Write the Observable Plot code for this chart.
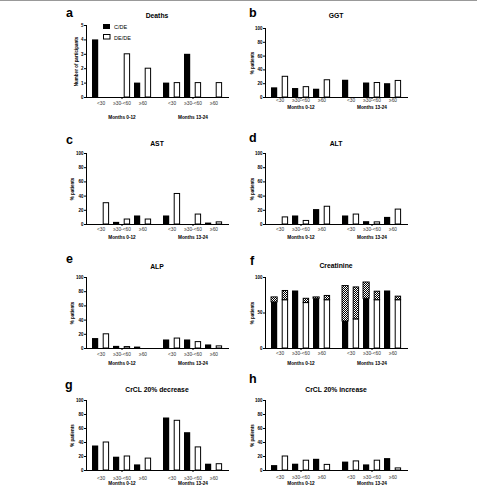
<!DOCTYPE html>
<html><head><meta charset="utf-8">
<script src="https://cdn.jsdelivr.net/npm/d3@7"></script>
<script src="https://cdn.jsdelivr.net/npm/@observablehq/plot@0.6"></script>
<style>
body{margin:0;background:#fff;font-family:"Liberation Sans",Arial,sans-serif;}
#root{position:relative;width:477px;height:489px;overflow:hidden;background:#fff}
#topline{position:absolute;left:0;top:0;width:477px;height:1px;background:#999}
#overlay{position:absolute;left:0;top:0;pointer-events:none}
</style></head><body>
<svg width="0" height="0" style="position:absolute">
  <defs>
    <pattern id="chk" width="2" height="2" patternUnits="userSpaceOnUse">
      <rect width="2" height="2" fill="#fff"/>
      <rect width="1" height="1" fill="#000"/>
      <rect x="1" y="1" width="1" height="1" fill="#000"/>
    </pattern>
  </defs>
</svg>
<div id="root"><div id="topline"></div></div>
<script>
// ---------- data ----------
const months = ["Months 0-12", "Months 13-24"];
const ageGroups = ["<30", "≥30-<60", "≥60"];
const seriesNames = ["C/DE", "DE/DE"];

// order: [0-12 <30, 0-12 ≥30-<60, 0-12 ≥60, 13-24 <30, 13-24 ≥30-<60, 13-24 ≥60]
const deathsC = [4, 0, 1, 1, 3, 0];
const deathsD = [0, 3, 2, 1, 1, 1];
const ggtC = [14, 13, 12, 25, 21, 20];
const ggtD = [30, 15, 25, 0, 21, 24];
const astC = [0, 3, 12, 12, 0, 2];
const astD = [30, 7, 7, 43, 14, 3];
const altC = [0, 12, 21, 12, 4, 10];
const altD = [10, 5, 25, 14, 3, 21];
const alpC = [14, 3, 2, 12, 12, 5];
const alpD = [20, 2, 0, 14, 9, 3];
const creatSolidC = [65, 81, 70, 38, 70, 81];
const creatTotalC = [72, 81, 72, 88, 93, 81];
const creatSolidD = [68, 64, 68, 41, 68, 68];
const creatTotalD = [81, 70, 74, 86, 80, 73];
const crclDecC = [35, 19, 8, 75, 54, 9];
const crclDecD = [40, 20, 17, 71, 33, 9];
const crclIncC = [7, 9, 16, 12, 8, 17];
const crclIncD = [20, 14, 8, 13, 14, 3];

const ticksCount = [0, 1, 2, 3, 4, 5];
const ticksPct = [0, 20, 40, 60, 80, 100];
const ticksCreat = [0, 50, 100];

function table(c, d, cTop, dTop) {
  const out = [];
  months.forEach((m, mi) => ageGroups.forEach((a, ai) => {
    const i = mi * 3 + ai;
    out.push({month: m, age: a, c: c[i], d: d[i],
      cTop: cTop ? cTop[i] : c[i], dTop: dTop ? dTop[i] : d[i]});
  }));
  return out;
}

const panels = [
  {letter: "a", title: "Deaths", col: 0, top: 0, h: 122, mt: 25, mb: 25, xp: 4.5, fp: 18.5,
   ymax: 5, ticks: ticksCount, ylabel: "Number of participants", lo: 12,
   c: deathsC, d: deathsD, lx: 66, ly: 17, ty: 17.5, legend: true},
  {letter: "b", title: "GGT", col: 1, top: 0, h: 122, mt: 28, mb: 25, xp: 1.5, fp: 8.3,
   ymax: 100, ticks: ticksPct, ylabel: "% patients", lo: 15,
   c: ggtC, d: ggtD, lx: 249, ly: 17, ty: 17.5},
  {letter: "c", title: "AST", col: 0, top: 122, h: 122, mt: 31, mb: 20, xp: 3.2, fp: 10.7,
   ymax: 100, ticks: ticksPct, ylabel: "% patients", lo: 16,
   c: astC, d: astD, lx: 66, ly: 144, ty: 145.5},
  {letter: "d", title: "ALT", col: 1, top: 122, h: 122, mt: 31, mb: 20, xp: 2.7, fp: 10.7,
   ymax: 100, ticks: ticksPct, ylabel: "% patients", lo: 15,
   c: altC, d: altD, lx: 249, ly: 142, ty: 145.5},
  {letter: "e", title: "ALP", col: 0, top: 244, h: 122, mt: 33, mb: 18, xp: 4, fp: 13,
   ymax: 100, ticks: ticksPct, ylabel: "% patients", lo: 16,
   c: alpC, d: alpD, lx: 66, ly: 263, ty: 268.5},
  {letter: "f", title: "Creatinine", col: 1, top: 244, h: 122, mt: 33, mb: 18, xp: 3.4, fp: 13,
   ymax: 100, ticks: ticksCreat, ylabel: "% patients", lo: 15,
   c: creatSolidC, d: creatSolidD, cTop: creatTotalC, dTop: creatTotalD, stack: true,
   lx: 250, ly: 265, ty: 267.5},
  {letter: "g", title: "CrCL 20% decrease", col: 0, top: 366, h: 123, mt: 34, mb: 19, xp: 6, fp: 11.3,
   ymax: 100, ticks: ticksPct, ylabel: "% patients", lo: 16,
   c: crclDecC, d: crclDecD, lx: 65, ly: 389, ty: 391.5},
  {letter: "h", title: "CrCL 20% increase", col: 1, top: 366, h: 123, mt: 34, mb: 19, xp: 5, fp: 11.3,
   ymax: 100, ticks: ticksPct, ylabel: "% patients", lo: 15,
   c: crclIncC, d: crclIncD, lx: 249, ly: 383, ty: 391.5}
];

const root = document.getElementById("root");
const FONT = "Liberation Sans, Arial, Helvetica, sans-serif";
const R = 10.8; // inset splitting each age band into C/DE (left) and DE/DE (right)

const overlayParts = [];

for (const p of panels) {
  const data = table(p.c, p.d, p.cTop, p.dTop);
  const mL = p.col ? 25 : 26, mR = p.col ? 8 : 7;
  const left = p.col ? 240 : 60;
  const marks = [];
  if (p.stack) {
    marks.push(
      Plot.barY(data, {fx: "month", x: "age", y1: 0, y2: "c", fill: "#000", insetRight: R}),
      Plot.barY(data.filter(r => r.cTop > r.c), {fx: "month", x: "age", y1: "c", y2: "cTop", fill: "url(#chk)", stroke: "#000", strokeWidth: 0.9, insetRight: R}),
      Plot.barY(data, {fx: "month", x: "age", y1: 0, y2: "d", fill: "#fff", stroke: "#000", strokeWidth: 1, insetLeft: R + 0.4, insetRight: 0.4}),
      Plot.barY(data.filter(r => r.dTop > r.d), {fx: "month", x: "age", y1: "d", y2: "dTop", fill: "url(#chk)", stroke: "#000", strokeWidth: 1, insetLeft: R + 0.4, insetRight: 0.4})
    );
  } else {
    marks.push(
      Plot.barY(data, {fx: "month", x: "age", y: "c", fill: "#000", insetRight: R}),
      Plot.barY(data.filter(r => r.d > 0), {fx: "month", x: "age", y: "d", fill: "#fff", stroke: "#000", strokeWidth: 1, insetLeft: R + 0.4, insetRight: 0.4})
    );
  }
  marks.push(
    Plot.frame({anchor: "bottom", facet: "super", stroke: "#000", strokeWidth: 1}),
    Plot.frame({anchor: "left", facet: "super", stroke: "#000", strokeWidth: 1}),
    Plot.axisY({ticks: p.ticks, tickFormat: "d", tickSize: 2, tickPadding: 1, fontSize: 4.5, fontWeight: "bold",
      label: p.ylabel, labelAnchor: "center", labelOffset: p.lo, labelArrow: "none"}),
    Plot.axisX({tickSize: 0, tickPadding: p.xp, fontSize: 4.8, fill: "#333", label: null}),
    Plot.axisX({ticks: ["≥30-<60"], tickSize: 2, tickFormat: () => "", label: null}),
    Plot.axisFx({anchor: "bottom", tickSize: 0, tickPadding: p.fp, fontSize: 4.7, fontWeight: "bold", label: null})
  );
  const svg = Plot.plot({
    width: 175, height: p.h,
    marginLeft: mL, marginRight: mR, marginTop: p.mt, marginBottom: p.mb,
    fx: {domain: months, padding: 0},
    x: {domain: ageGroups, paddingInner: 0.2, paddingOuter: 0.24},
    y: {domain: [0, p.ymax]},
    style: {fontFamily: FONT, background: "transparent", overflow: "visible", color: "#000"},
    marks
  });
  svg.style.position = "absolute";
  svg.style.left = left + "px";
  svg.style.top = p.top + "px";
  root.appendChild(svg);

  const cx = left + mL + (175 - mL - mR) / 2;
  overlayParts.push(`<text x="${cx}" y="${p.ty}" text-anchor="middle" font-weight="bold" font-size="6.8">${p.title}</text>`);
  overlayParts.push(`<text x="${p.lx}" y="${p.ly}" font-weight="bold" font-size="12.5">${p.letter}</text>`);
  if (p.legend) {
    overlayParts.push(`<rect x="103" y="24" width="7" height="5" fill="#000"/>`);
    overlayParts.push(`<text x="114" y="29" font-size="5.5">${seriesNames[0]}</text>`);
    overlayParts.push(`<rect x="103.5" y="34.5" width="6.5" height="4.5" fill="#fff" stroke="#000" stroke-width="1"/>`);
    overlayParts.push(`<text x="114" y="39.5" font-size="5.5">${seriesNames[1]}</text>`);
  }
}

const ov = document.createElementNS("http://www.w3.org/2000/svg", "svg");
ov.setAttribute("id", "overlay");
ov.setAttribute("width", 477);
ov.setAttribute("height", 489);
ov.setAttribute("font-family", FONT);
ov.innerHTML = overlayParts.join("");
root.appendChild(ov);
</script>
</body></html>
